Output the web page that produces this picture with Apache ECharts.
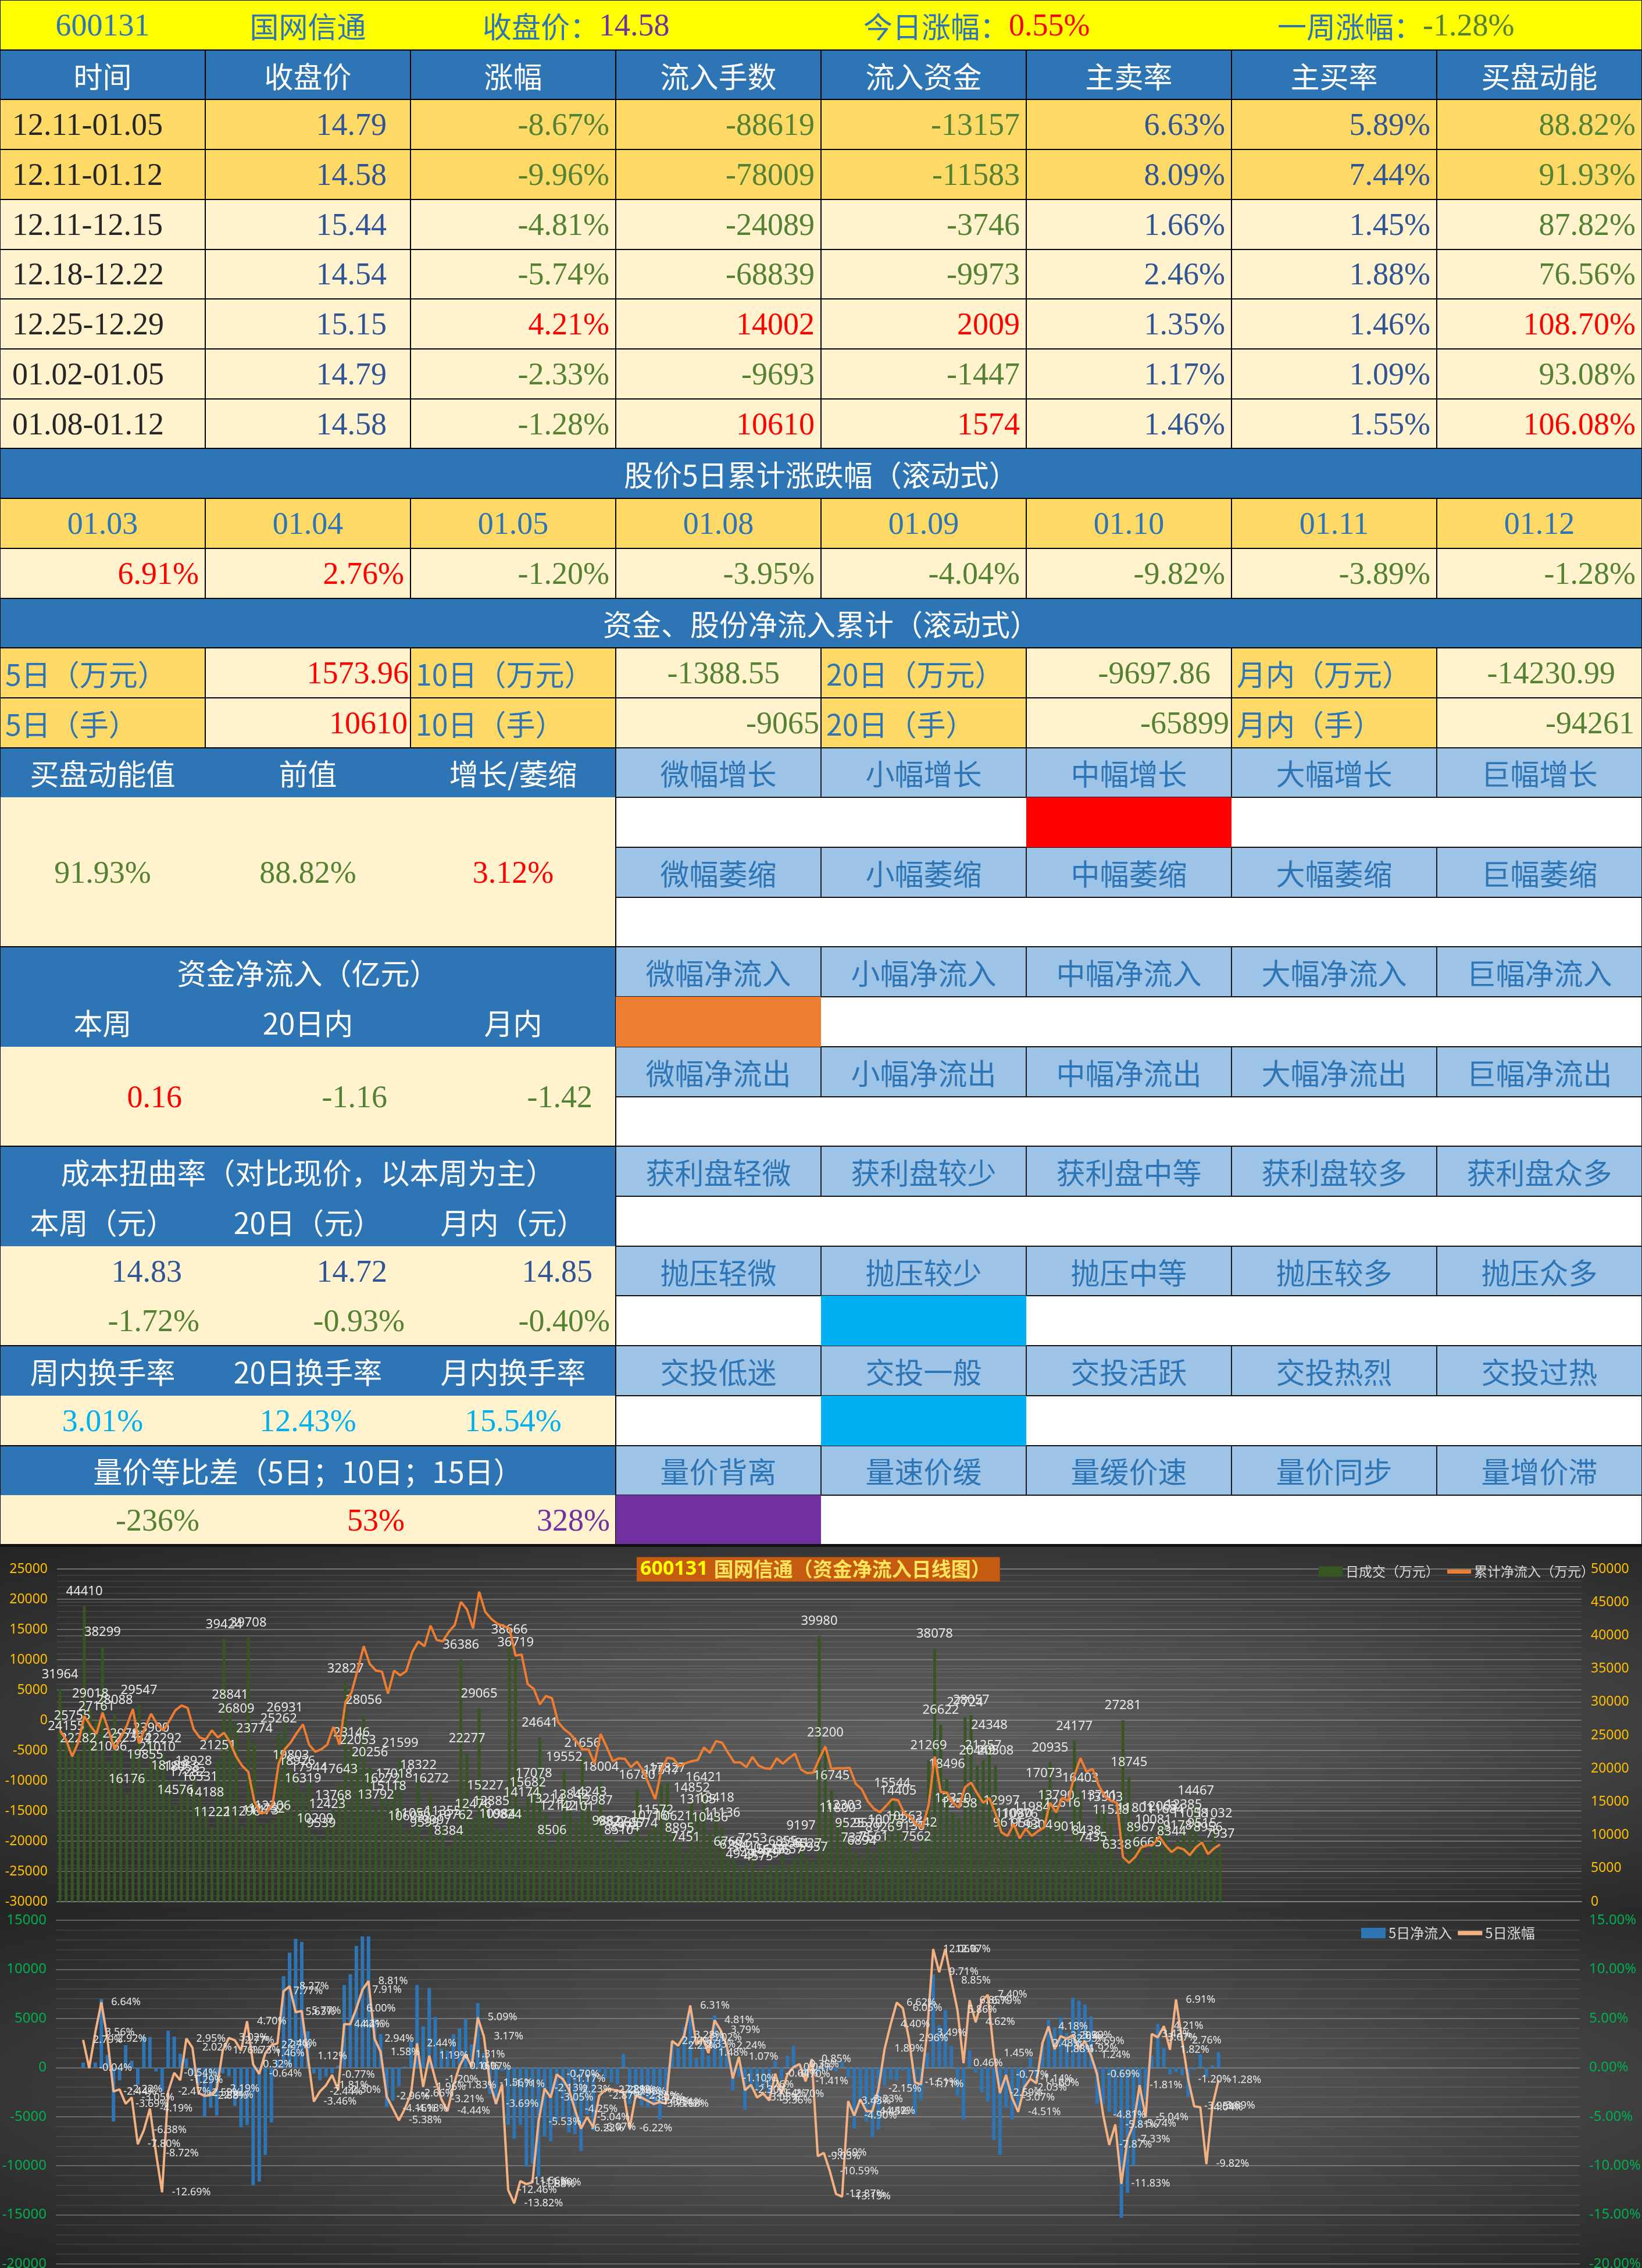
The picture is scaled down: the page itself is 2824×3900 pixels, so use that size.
<!DOCTYPE html>
<html>
<head>
<meta charset="utf-8">
<title>600131 国网信通</title>
<script src="https://cdn.jsdelivr.net/npm/echarts@6/dist/echarts.min.js"></script>
<style>
html, body { margin: 0; padding: 0; background: #fff; }
body { width: 2824px; height: 3900px; position: relative; overflow: hidden; }
#sheet { position: absolute; left: 0; top: 0; width: 2824px; height: 2660px; }
.c { position: absolute; box-sizing: border-box; display: flex; align-items: center; overflow: hidden; white-space: nowrap; }
.cn { font-family: "Noto Sans CJK SC", sans-serif; font-size: 50px; }
.num { font-family: "Liberation Serif", serif; font-size: 54px; }
.chart { position: absolute; left: 0; width: 2824px;
  background: radial-gradient(ellipse at 55% 50%, #5c5c5c 0%, #4e4e4e 35%, #2f2f2f 80%, #242424 100%); }
#top { top: 2660px; height: 625px; }
#bottom { top: 3285px; height: 615px; }
#rule { position: absolute; left: 0; top: 2655px; width: 2824px; height: 6px; background: #111; }
</style>
</head>
<body>
<div id="sheet"></div>
<div id="rule"></div>
<div id="top" class="chart"></div>
<div id="bottom" class="chart"></div>
<script>
// ---------- chart data ----------
var slotCount = 251;          // category slots on the x axis (only the first 192 are filled)
var fiveDayStart = 4;         // the 5-day series start on the 5th day

// 日成交（万元）
var dayVolume = [
  31964, 24155, 25755, 22282, 44410, 29018, 27161, 38299, 21066, 28088,
  22978, 16176, 22384, 29547, 19855, 23900, 21010, 22292, 18189, 14576,
  18058, 17282, 18928, 16531, 14188, 11222, 21251, 39424, 28841, 26809,
  11296, 39708, 23774, 11473, 11752, 12206, 25262, 26931, 19803, 18926,
  16319, 17944, 10209, 9539, 12423, 13768, 17643, 32827, 23146, 22053,
  28056, 20256, 13792, 16272, 15118, 17018, 21599, 10605, 11056, 18322,
  9599, 16272, 9997, 11355, 8384, 10762, 36386, 22277, 12476, 29065,
  15227, 12885, 10984, 10824, 38666, 36719, 14174, 15682, 17078, 24641,
  13214, 8506, 12142, 19552, 13842, 12101, 21656, 14243, 12987, 18004,
  9882, 9827, 8510, 8974, 9657, 16780, 9574, 10716, 11572, 17517,
  17827, 10621, 8895, 7451, 14852, 13105, 16421, 10436, 13418, 11136,
  6760, 6284, 4949, 5840, 7253, 4575, 4979, 5616, 5475, 6855,
  5657, 6581, 9197, 6527, 5957, 39980, 23200, 16745, 11800, 12303,
  9525, 7375, 6894, 9570, 7561, 8926, 10073, 15544, 14405, 10563,
  9130, 7562, 9642, 21269, 38078, 26622, 18496, 13320, 12558, 27724,
  28057, 20449, 21257, 24348, 20508, 12997, 9611, 11080, 10976, 9563,
  11984, 9304, 17073, 20935, 13790, 12616, 9011, 24177, 16403, 8438,
  7435, 13741, 13503, 11528, 6338, 27281, 18745, 11801, 8967, 6665,
  10081, 12063, 11684, 8344, 9178, 12385, 11058, 14467, 9515, 8956,
  11032, 7937
];

// 累计净流入（万元）
var cumInflow = [
  -1690, -3250, -6000, -3650, 670, -900, -2270, 1250, -1690, -4820,
  -2860, -900, 1840, -3840, -1300, 1060, -700, -1690, -120, 1650,
  2430, 2040, -1490, -2860, -3180, -1690, -2860, -2080, -3650, -6000,
  -7570, -8550, -13450, -15410, -15220, -13840, -7180, -4820, -3650, -2080,
  -700, -4040, -5220, -4820, -4040, -1100, -4040, 3020, 4590, 8310,
  12240, 9290, 8200, 8040, 4390, 8200, 7410, 8120, 11250, 13020,
  12240, 15650, 13290, 13020, 14590, 15760, 19570, 18310, 15180, 21250,
  17920, 16750, 15960, 15570, 15180, 10670, 10860, 5960, 5180, 2630,
  4000, 3610, -310, -1490, -2270, -3450, -4820, -4820, -7180, -2270,
  -4430, -6780, -6310, -6390, -7760, -6860, -8350, -10710, -13060, -8270,
  -6200, -6390, -7650, -7100, -6780, -6590, -4510, -5410, -3450, -3730,
  -5410, -6980, -6980, -7760, -6080, -7490, -7960, -8040, -6310, -7180,
  -6310, -5530, -8160, -8750, -8670, -6390, -4350, -8040, -7960, -7960,
  -7880, -10510, -11410, -13450, -14630, -15220, -14160, -13060, -13250, -15410,
  -16000, -17180, -17760, -14040, -6000, -11880, -11960, -13650, -14430, -11100,
  -10310, -12080, -13650, -12860, -15410, -18550, -19140, -17180, -19530, -17960,
  -19140, -18350, -17760, -13650, -15260, -12850, -13330, -9170, -6280, -8530,
  -8040, -10770, -12530, -13330, -13650, -22630, -23590, -22630, -21030, -20710,
  -20540, -19260, -20710, -21830, -21030, -21350, -22310, -21030, -20220, -22150,
  -21190, -20540
];

// 5日净流入（万元）, from day 5 on
var fiveDayInflow = [
  500, 150, 520, 6960, 1290, -5500, -1300, 2270, 700, -1760,
  3200, 3100, -400, -2460, 3750, 3160, 1400, 900, -700, -1800,
  -5000, -4100, -4900, -600, -900, -3900, -6100, -5850, -12000, -11600,
  -8900, -5600, 800, 9300, 11700, 13100, 12800, 3700, -600, -1300,
  -900, -600, 200, 8400, 9500, 12400, 13350, 13350, 5000, 3400,
  -4000, -3400, -1900, 100, 2700, 8400, 4200, 8100, 5150, 1900,
  1750, 3400, 4000, 5000, 2350, 6550, 1500, -2700, -3750, -350,
  -5850, -7260, -5850, -10100, -9800, -11100, -7000, -7500, -5500, -5200,
  -6600, -6800, -8500, -4800, -6400, -500, -1100, -1500, -1700, 1400,
  -3700, -3200, -3900, -4100, -3900, -5300, -3000, 2600, 2000, 4100,
  5500, 940, 2200, 1200, 5300, 3200, 2000, -2340, -900, -4300,
  -2200, -2300, -2200, -2700, 700, -1200, 1200, 2200, -100, -600,
  800, -500, -300, -200, -400, 600, -1000, -6200, -3200, -5500,
  -7100, -6300, -1800, -1200, -1300, -300, -2000, -4800, -3300, 1500,
  9500, 4300, 5850, 2200, -2900, -5300, 1750, -500, -2500, -3500,
  -7400, -8900, -4100, -5300, -4000, -2500, 1050, -1500, 2500, 4850,
  4100, 5100, 3500, 7100, 6800, 6400, 5200, -3700, -3746, -4500,
  -4800, -15300, -12760, -9973, -6000, -3300, 1200, 4450, 2009, -700,
  -470, -800, -2962, -230, 1330, -940, 230, 1574
];

// 5日涨幅（%）, from day 5 on
var fiveDayPct = [
  2.79, -0.04, 3.56, 6.64, 2.92, -2.44, -2.22, -3.69, -3.05, -7.80,
  -6.38, -4.19, -8.72, -12.69, -2.47, -0.54, -1.29, 2.95, 2.02, -2.59,
  -2.88, -2.81, -2.19, 1.76, 3.02, 2.77, 1.73, 4.70, 0.32, -0.64,
  1.46, 2.27, 2.46, 7.77, 8.27, 5.63, 5.77, 1.12, -3.46, -2.44,
  -1.81, -0.77, -2.30, 4.42, 4.41, 6.00, 7.91, 8.81, 2.94, 1.58,
  -2.96, -4.16, -5.38, -4.18, -2.66, 2.44, -1.96, 1.19, -1.20, -3.21,
  -4.44, -1.83, 0.16, 1.31, 0.07, 5.09, 3.17, -1.56, -3.69, -1.71,
  -12.46, -13.82, -11.56, -11.88, -11.69, -5.53, -2.13, -3.05, -0.70, -1.17,
  -2.23, -4.25, -6.22, -5.04, -6.07, -2.87, -2.28, -2.21, -2.36, -2.46,
  -6.22, -2.86, -3.07, -3.40, -3.71, -3.51, -3.68, 2.70, 2.23, 3.28,
  6.31, 2.33, 3.02, 1.48, 4.81, 3.79, 2.24, -1.10, 1.07, -2.30,
  -1.76, -3.05, -2.64, -3.36, -0.64, -2.70, -0.70, 0.04, 0.35, -1.41,
  0.85, -9.03, -8.69, -10.59, -12.87, -13.15, -3.43, -4.90, -3.23, -4.45,
  -4.42, -2.15, 1.89, 4.40, 6.62, 6.05, 2.96, -1.51, -1.71, 3.49,
  12.06, 9.71, 12.07, 8.85, 5.86, 0.46, 6.85, 4.62, 6.79, 7.40,
  1.45, -2.59, -0.77, -3.07, -4.51, -2.03, -1.14, -1.60, 2.48, 4.18,
  1.88, 3.20, 2.93, 3.29, 1.92, 2.69, 1.24, -0.69, -4.81, -7.87,
  -5.81, -11.83, -7.33, -5.74, -1.81, -5.04, 3.42, 3.07, 4.21, 1.82,
  6.91, 2.76, -1.20, -3.95, -4.04, -9.82, -3.89, -1.28
];

// ---------- sheet data ----------
var headCols = ['时间', '收盘价', '涨幅', '流入手数', '流入资金', '主卖率', '主买率', '买盘动能'];
var weekRows = [
  ['12.11-01.05', '14.79', '-8.67%', '-88619', '-13157', '6.63%', '5.89%', '88.82%'],
  ['12.11-01.12', '14.58', '-9.96%', '-78009', '-11583', '8.09%', '7.44%', '91.93%'],
  ['12.11-12.15', '15.44', '-4.81%', '-24089', '-3746', '1.66%', '1.45%', '87.82%'],
  ['12.18-12.22', '14.54', '-5.74%', '-68839', '-9973', '2.46%', '1.88%', '76.56%'],
  ['12.25-12.29', '15.15', '4.21%', '14002', '2009', '1.35%', '1.46%', '108.70%'],
  ['01.02-01.05', '14.79', '-2.33%', '-9693', '-1447', '1.17%', '1.09%', '93.08%'],
  ['01.08-01.12', '14.58', '-1.28%', '10610', '1574', '1.46%', '1.55%', '106.08%']
];
var rollDates = ['01.03', '01.04', '01.05', '01.08', '01.09', '01.10', '01.11', '01.12'];
var rollPct = ['6.91%', '2.76%', '-1.20%', '-3.95%', '-4.04%', '-9.82%', '-3.89%', '-1.28%'];
var sumLabels = [['5日（万元）', '10日（万元）', '20日（万元）', '月内（万元）'],
                 ['5日（手）', '10日（手）', '20日（手）', '月内（手）']];
var sumValues = [['1573.96', '-1388.55', '-9697.86', '-14230.99'],
                 ['10610', '-9065', '-65899', '-94261']];
var levelRows = [
  ['微幅增长', '小幅增长', '中幅增长', '大幅增长', '巨幅增长'],
  ['微幅萎缩', '小幅萎缩', '中幅萎缩', '大幅萎缩', '巨幅萎缩'],
  ['微幅净流入', '小幅净流入', '中幅净流入', '大幅净流入', '巨幅净流入'],
  ['微幅净流出', '小幅净流出', '中幅净流出', '大幅净流出', '巨幅净流出'],
  ['获利盘轻微', '获利盘较少', '获利盘中等', '获利盘较多', '获利盘众多'],
  ['抛压轻微', '抛压较少', '抛压中等', '抛压较多', '抛压众多'],
  ['交投低迷', '交投一般', '交投活跃', '交投热烈', '交投过热'],
  ['量价背离', '量速价缓', '量缓价速', '量价同步', '量增价滞']
];
// highlighted cell under each level row: [column offset, colour] or null
var levelMarks = [[2, '#ff0000'], null, [0, '#ed7d31'], null, null, [1, '#00b0f0'], [1, '#00b0f0'], [0, '#7030a0']];

// ---------- colours ----------
var BLUE = '#2e75b6', GOLD = '#ffd966', CREAM = '#fff2cc', LIGHT = '#9dc3e6';
var RED = '#ff0000', GREEN = '#548235', NAVY = '#2f5597', PURPLE = '#7030a0', SKY = '#00b0f0';

// ---------- sheet ----------
var W = 2824 / 8, H = 2657 / 31;
var sheet = document.getElementById('sheet');

function put(r, c, rs, cs, o) {
  var d = document.createElement('div');
  d.className = 'c';
  d.style.left = (c * W) + 'px';
  d.style.top = (r * H) + 'px';
  d.style.width = (cs * W) + 'px';
  d.style.height = (rs * H) + 'px';
  if (o.bg) d.style.background = o.bg;
  if (o.border) d.style.border = '1.5px solid ' + o.border;
  var al = o.al || 'c';
  d.style.justifyContent = al === 'l' ? 'flex-start' : (al === 'r' ? 'flex-end' : 'center');
  if (o.pad) d.style.padding = al === 'r' ? '0 ' + o.pad + 'px 0 0' : '0 0 0 ' + o.pad + 'px';
  d.innerHTML = o.html || '';
  sheet.appendChild(d);
  return d;
}
function sp(text, color, cls) {
  return '<span class="' + (cls || 'num') + '" style="color:' + color + '">' + text + '</span>';
}
function signColor(v) { return v.charAt(0) === '-' ? GREEN : RED; }

// title row
put(0, 0, 1, 8, { bg: '#ffff00', border: '#000' });
put(0, 0, 1, 1, { html: sp('600131', BLUE) });
put(0, 1, 1, 1, { html: sp('国网信通', BLUE, 'cn') });
put(0, 2, 1, 2, { al: 'l', pad: 124, html: sp('收盘价：', BLUE, 'cn') + sp('14.58', PURPLE) });
put(0, 4, 1, 2, { al: 'l', pad: 73, html: sp('今日涨幅：', BLUE, 'cn') + sp('0.55%', RED) });
put(0, 6, 1, 2, { al: 'l', pad: 79, html: sp('一周涨幅：', BLUE, 'cn') + sp('-1.28%', GREEN) });

// header
headCols.forEach(function (h, c) { put(1, c, 1, 1, { bg: BLUE, border: '#000', html: sp(h, '#fff', 'cn') }); });

// weekly rows
weekRows.forEach(function (row, i) {
  var bg = i < 2 ? GOLD : CREAM;
  row.forEach(function (v, c) {
    var o = { bg: bg, border: '#000', al: 'r', pad: 10 };
    var col;
    if (c === 0) { o.al = 'l'; o.pad = 20; col = '#262626'; }
    else if (c === 1) { o.pad = 40; col = NAVY; }
    else if (c === 5 || c === 6) col = NAVY;
    else if (c === 7) col = parseFloat(v) >= 100 ? RED : GREEN;
    else col = signColor(v);
    o.html = sp(v, col);
    put(2 + i, c, 1, 1, o);
  });
});

// rolling 5-day change
put(9, 0, 1, 8, { bg: BLUE, border: '#000', html: sp('股价5日累计涨跌幅（滚动式）', '#fff', 'cn') });
rollDates.forEach(function (d, c) { put(10, c, 1, 1, { bg: GOLD, border: '#000', html: sp(d, BLUE) }); });
rollPct.forEach(function (v, c) { put(11, c, 1, 1, { bg: CREAM, border: '#000', al: 'r', pad: 10, html: sp(v, signColor(v)) }); });

// cumulative inflow
put(12, 0, 1, 8, { bg: BLUE, border: '#000', html: sp('资金、股份净流入累计（滚动式）', '#fff', 'cn') });
var sumPads = [[2, 70, 35, 45], [4, 2, 3, 12]];
for (var r = 0; r < 2; r++) {
  for (var k = 0; k < 4; k++) {
    put(13 + r, k * 2, 1, 1, { bg: GOLD, border: '#000', al: 'l', pad: 8, html: sp(sumLabels[r][k], BLUE, 'cn') });
    var v = sumValues[r][k];
    put(13 + r, k * 2 + 1, 1, 1, { bg: CREAM, border: '#000', al: 'r', pad: sumPads[r][k], html: sp(v, signColor(v)) });
  }
}

// left panel (three sub-columns)
function triple(r, rs, bg, items) {
  items.forEach(function (it, c) {
    put(r, c, rs, 1, { bg: bg, al: it.al || 'c', pad: it.pad || 0, html: it.html });
  });
}
function band(r, rs, bg, html) { put(r, 0, rs, 3, { bg: bg, html: html }); }
function w(t) { return { html: sp(t, '#fff', 'cn') }; }

triple(15, 1, BLUE, [w('买盘动能值'), w('前值'), w('增长/萎缩')]);
triple(16, 3, CREAM, [{ html: sp('91.93%', GREEN) }, { html: sp('88.82%', GREEN) }, { html: sp('3.12%', RED) }]);
band(19, 1, BLUE, sp('资金净流入（亿元）', '#fff', 'cn'));
triple(20, 1, BLUE, [w('本周'), w('20日内'), w('月内')]);
triple(21, 2, CREAM, [{ al: 'r', pad: 40, html: sp('0.16', RED) }, { al: 'r', pad: 40, html: sp('-1.16', GREEN) }, { al: 'r', pad: 40, html: sp('-1.42', GREEN) }]);
band(23, 1, BLUE, sp('成本扭曲率（对比现价，以本周为主）', '#fff', 'cn'));
triple(24, 1, BLUE, [w('本周（元）'), w('20日（元）'), w('月内（元）')]);
triple(25, 1, CREAM, [{ al: 'r', pad: 40, html: sp('14.83', NAVY) }, { al: 'r', pad: 40, html: sp('14.72', NAVY) }, { al: 'r', pad: 40, html: sp('14.85', NAVY) }]);
triple(26, 1, CREAM, [{ al: 'r', pad: 10, html: sp('-1.72%', GREEN) }, { al: 'r', pad: 10, html: sp('-0.93%', GREEN) }, { al: 'r', pad: 10, html: sp('-0.40%', GREEN) }]);
triple(27, 1, BLUE, [w('周内换手率'), w('20日换手率'), w('月内换手率')]);
triple(28, 1, CREAM, [{ html: sp('3.01%', SKY) }, { html: sp('12.43%', SKY) }, { html: sp('15.54%', SKY) }]);
band(29, 1, BLUE, sp('量价等比差（5日；10日；15日）', '#fff', 'cn'));
triple(30, 1, CREAM, [{ al: 'r', pad: 10, html: sp('-236%', GREEN) }, { al: 'r', pad: 10, html: sp('53%', RED) }, { al: 'r', pad: 10, html: sp('328%', PURPLE) }]);
[[15, 4], [19, 4], [23, 4], [27, 2], [29, 2]].forEach(function (b) { put(b[0], 0, b[1], 3, { border: '#000' }); });

// right panel (levels)
levelRows.forEach(function (names, i) {
  var r = 15 + i * 2;
  names.forEach(function (n, k) { put(r, 3 + k, 1, 1, { bg: LIGHT, border: '#1f1f1f', html: sp(n, BLUE, 'cn') }); });
  put(r + 1, 3, 1, 5, { bg: '#fff', border: '#000' });
  var m = levelMarks[i];
  if (m) put(r + 1, 3 + m[0], 1, 1, { bg: m[1] });
});

// ---------- charts ----------
var categories = [];
for (var i = 0; i < slotCount; i++) categories.push(String(i + 1));
var lead = [];
for (var j = 0; j < fiveDayStart; j++) lead.push(null);
var fiveDayInflowData = lead.concat(fiveDayInflow);
var fiveDayPctData = lead.concat(fiveDayPct);

var axisFont = 'Noto Sans';
var gridMajor = 'rgba(215,215,215,0.32)';
var gridMinor = 'rgba(215,215,215,0.13)';
var lineIcon = 'path://M0,0 L40,0 L40,7 L0,7 Z';
function plain(v) { return String(v); }

var topChart = echarts.init(document.getElementById('top'));
topChart.setOption({
  animation: false,
  backgroundColor: 'transparent',
  title: {
    left: 1095, top: 14,
    backgroundColor: '#c55a11',
    padding: [4, 16, 4, 6],
    text: '{a|600131}  {b|国网信通（资金净流入日线图）}',
    textStyle: {
      rich: {
        a: { color: '#ffff00', fontWeight: 'bold', fontSize: 34, fontFamily: 'Noto Sans', lineHeight: 41 },
        b: { color: '#ffe45c', fontSize: 34, fontFamily: 'Noto Sans CJK SC', lineHeight: 41 }
      }
    }
  },
  legend: {
    left: 2263, top: 26,
    itemWidth: 41, itemHeight: 18, itemGap: 14,
    textStyle: { color: '#d9d9d9', fontSize: 23, fontFamily: 'Noto Sans CJK SC' },
    data: [
      { name: '日成交（万元）', icon: 'rect' },
      { name: '累计净流入（万元）', icon: lineIcon }
    ]
  },
  grid: { left: 98, right: 104, top: 38, bottom: 15, outerBoundsMode: 'none' },
  xAxis: {
    type: 'category', data: categories, boundaryGap: true,
    axisLabel: { show: false }, axisTick: { show: false },
    axisLine: { show: true, onZero: false, lineStyle: { color: '#808080', width: 2 } },
    splitLine: { show: false }
  },
  yAxis: [
    {
      type: 'value', position: 'left', min: -30000, max: 25000, interval: 5000,
      axisLine: { show: false }, axisTick: { show: false },
      axisLabel: { color: '#ffc000', fontSize: 23, margin: 16, fontFamily: axisFont, formatter: plain },
      splitLine: { show: true, lineStyle: { color: gridMajor, width: 2 } },
      minorTick: { show: false, splitNumber: 5 },
      minorSplitLine: { show: true, lineStyle: { color: gridMinor, width: 1.5 } }
    },
    {
      type: 'value', position: 'right', min: 0, max: 50000, interval: 5000,
      axisLine: { show: false }, axisTick: { show: false },
      axisLabel: { color: '#ffc000', fontSize: 23, margin: 16, fontFamily: axisFont, formatter: plain },
      splitLine: { show: true, lineStyle: { color: 'rgba(215,215,215,0.18)', width: 1.5 } }
    }
  ],
  series: [
    {
      name: '日成交（万元）', type: 'bar', yAxisIndex: 1, data: dayVolume,
      barWidth: 5, itemStyle: { color: '#375623' },
      label: { show: true, position: 'top', distance: 14, color: '#e8e8e8', fontSize: 22, fontFamily: axisFont }
    },
    {
      name: '累计净流入（万元）', type: 'line', yAxisIndex: 0, data: cumInflow,
      symbol: 'none', showSymbol: false,
      lineStyle: { color: '#ed7d31', width: 4 }, itemStyle: { color: '#ed7d31' }
    }
  ]
});

var bottomChart = echarts.init(document.getElementById('bottom'));
bottomChart.setOption({
  animation: false,
  backgroundColor: 'transparent',
  legend: {
    left: 2336, top: 22,
    itemWidth: 42, itemHeight: 18, itemGap: 10,
    textStyle: { color: '#d9d9d9', fontSize: 24, fontFamily: 'Noto Sans CJK SC' },
    data: [
      { name: '5日净流入', icon: 'rect' },
      { name: '5日涨幅', icon: lineIcon }
    ]
  },
  grid: { left: 96, right: 107, top: 17, bottom: 7, outerBoundsMode: 'none' },
  xAxis: {
    type: 'category', data: categories, boundaryGap: true,
    axisLabel: { show: false }, axisTick: { show: false }, axisLine: { show: false },
    splitLine: { show: false }
  },
  yAxis: [
    {
      type: 'value', position: 'left', min: -20000, max: 15000, interval: 5000,
      axisLine: { show: false }, axisTick: { show: false },
      axisLabel: { color: '#00b050', fontSize: 24, margin: 16, fontFamily: axisFont, formatter: plain },
      splitLine: { show: true, lineStyle: { color: gridMajor, width: 2 } },
      minorTick: { show: false, splitNumber: 5 },
      minorSplitLine: { show: true, lineStyle: { color: gridMinor, width: 1.5 } }
    },
    {
      type: 'value', position: 'right', min: -20, max: 15, interval: 5,
      axisLine: { show: false }, axisTick: { show: false },
      axisLabel: { color: '#00b050', fontSize: 24, margin: 16, fontFamily: axisFont,
        formatter: function (v) { return v.toFixed(2) + '%'; } },
      splitLine: { show: false }
    }
  ],
  series: [
    {
      name: '5日净流入', type: 'bar', yAxisIndex: 0, data: fiveDayInflowData,
      barWidth: 6, itemStyle: { color: '#2e75b6' }
    },
    {
      name: '5日涨幅', type: 'line', yAxisIndex: 1, data: fiveDayPctData,
      showSymbol: true, showAllSymbol: true, symbol: 'circle', symbolSize: 2,
      lineStyle: { color: '#f4b183', width: 4 }, itemStyle: { color: '#f4b183' },
      label: {
        show: true, position: 'right', distance: 16, color: '#e8e8e8', fontSize: 18, fontFamily: axisFont,
        formatter: function (p) { return p.value == null ? '' : p.value.toFixed(2) + '%'; }
      }
    }
  ]
});
</script>
</body>
</html>
